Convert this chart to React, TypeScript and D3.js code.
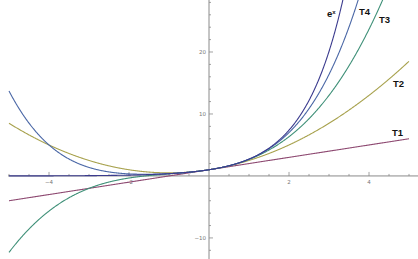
import React from "react";
import * as d3 from "d3";

const W = 418;
const H = 259;

// Series: e^x and its Taylor polynomials (coefficients of x^0, x^1, ...)
const seriesNames = ["e^x", "T4", "T3", "T2", "T1"];
const seriesCoefs: (number[] | null)[] = [
  null,
  [1, 1, 1 / 2, 1 / 6, 1 / 24],
  [1, 1, 1 / 2, 1 / 6],
  [1, 1, 1 / 2],
  [1, 1],
];
const seriesColors = ["#3b3b8e", "#4a67a6", "#3f9078", "#a8a24e", "#8e4a72"];

const xTickLabels = [-4, -2, 2, 4];
const yTickLabels = [-10, 10, 20];
const xDomain = [-5, 5];

export default function App() {
  const x = d3.scaleLinear().domain([-5, 5]).range([9, 409]);
  const y = d3.scaleLinear().domain([-13.4, 28.39]).range([H, 0]);
  const x0 = x(0);
  const y0 = y(0);

  const xs = d3.range(xDomain[0], xDomain[1] + 1e-9, 0.01);
  const evalS = (i: number, v: number) => {
    const c = seriesCoefs[i];
    if (!c) return Math.exp(v);
    return c.reduce((s, a, k) => s + a * Math.pow(v, k), 0);
  };
  const line = d3
    .line<number[]>()
    .x((d) => x(d[0]))
    .y((d) => y(d[1]));

  const xMinor = d3.range(-5, 5.26, 0.5).filter((v) => Math.abs(v) > 1e-9);
  const yMinor = d3.range(-12, 29, 2).filter((v) => v !== 0);

  const labelPos: { [k: string]: [number, number] } = {
    "e^x": [327, 17],
    T4: [359, 15],
    T3: [379, 23],
    T2: [393, 87],
    T1: [392, 136],
  };

  return (
    <svg width={W} height={H} style={{ position: "absolute", left: 0, top: 0, background: "#fff" }}>
      <defs>
        <clipPath id="plot">
          <rect x={0} y={0} width={W} height={H} />
        </clipPath>
      </defs>
      {/* axes */}
      <line x1={x(-5) - 1} x2={W} y1={y0} y2={y0} stroke="#8a8a8a" strokeWidth={1} />
      <line x1={x0} x2={x0} y1={0} y2={H} stroke="#8a8a8a" strokeWidth={1} />
      {xMinor.map((v) => {
        const major = Math.abs(v % 2) < 1e-9;
        return (
          <line key={"xt" + v} x1={x(v)} x2={x(v)} y1={y0} y2={y0 - (major ? 4 : 2)} stroke="#8a8a8a" strokeWidth={0.8} />
        );
      })}
      {yMinor.map((v) => {
        const major = v % 10 === 0;
        return (
          <line key={"yt" + v} x1={x0} x2={x0 + (major ? 4 : 2)} y1={y(v)} y2={y(v)} stroke="#8a8a8a" strokeWidth={0.8} />
        );
      })}
      {xTickLabels.map((v) => (
        <text key={"xl" + v} x={x(v)} y={y0 + 8} fontSize={5.5} fill="#777" textAnchor="middle" fontFamily="DejaVu Sans">
          {v < 0 ? "\u2212" + Math.abs(v) : v}
        </text>
      ))}
      {yTickLabels.map((v) => (
        <text key={"yl" + v} x={x0 - 3} y={y(v) + 2} fontSize={5.5} fill="#777" textAnchor="end" fontFamily="DejaVu Sans">
          {v < 0 ? "\u2212" + Math.abs(v) : v}
        </text>
      ))}
      {/* curves */}
      <g clipPath="url(#plot)">
        {seriesNames
          .map((n, i) => i)
          .reverse()
          .map((i) => (
            <path
              key={seriesNames[i]}
              d={line(xs.map((v) => [v, Math.max(-40, Math.min(60, evalS(i, v)))])) || ""}
              fill="none"
              stroke={seriesColors[i]}
              strokeWidth={1.1}
            />
          ))}
      </g>
      {/* labels */}
      {seriesNames.map((n) => {
        const [lx, ly] = labelPos[n];
        return (
          <text key={"lab" + n} x={lx} y={ly} fontSize={9.5} fontWeight="bold" fill="#111" fontFamily="Liberation Sans, Arial, sans-serif">
            {n === "e^x" ? (
              <>
                e<tspan fontSize={6} dy={-3.5}>x</tspan>
              </>
            ) : (
              n
            )}
          </text>
        );
      })}
    </svg>
  );
}
